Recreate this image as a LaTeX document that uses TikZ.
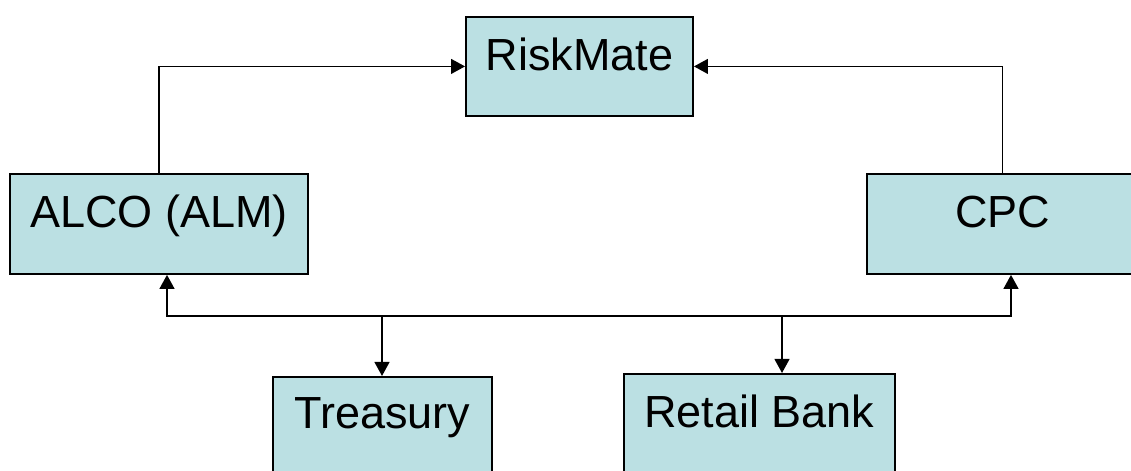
\documentclass[tikz,border=0pt]{standalone}
\usepackage{fontspec}
\setmainfont{Liberation Sans}
\usepackage{xcolor}
\usetikzlibrary{arrows.meta,calc}

\definecolor{boxfill}{RGB}{187,224,227}

\begin{document}
\begin{tikzpicture}[
  x=0.025cm, y=-0.025cm,
  font=\fontsize{32}{38}\selectfont, >={Triangle[length=0.35cm,width=0.37cm]},
  unit/.style={draw, line width=1.3pt, fill=boxfill, anchor=north,
               inner sep=0pt, text height=1.33cm, text depth=1.17cm},
  arr/.style={->, line width=1.3pt},
]
\useasboundingbox (0,0) rectangle (1131,471);

\node[unit, minimum width=5.675cm, text height=1.35cm, text depth=1.125cm] (risk) at (579.5,16) {RiskMate};
\node[unit, minimum width=7.45cm] (alco) at (159,173) {ALCO (ALM)};
\node[unit, minimum width=6.775cm] (cpc) at (1002.5,173) {CPC};
\node[unit, minimum width=5.475cm, text height=1.3cm, text depth=1.6cm] (treas) at (382.5,376) {Treasury};
\node[unit, minimum width=6.775cm, text depth=1.6cm] (retail) at (759.5,373) {Retail Bank};

% links up to RiskMate
\draw[arr] (alco.north) |- (risk.west);
\draw[arr] (cpc.north) |- (risk.east);

% shared line below the committees
\coordinate (busl) at (167,316);
\coordinate (busr) at (1011,316);
\coordinate (bust) at (382,316);
\coordinate (busb) at (782,316);
\draw[<->, line width=1.3pt] (alco.south -| busl) -- (busl) -- (busr) -- (cpc.south -| busr);
\draw[arr] (bust) -- (bust |- treas.north);
\draw[arr] (busb) -- (busb |- retail.north);
\end{tikzpicture}
\end{document}
